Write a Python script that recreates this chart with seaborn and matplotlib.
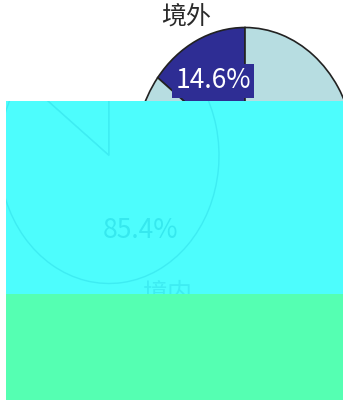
import matplotlib
matplotlib.use("Agg")
import matplotlib.pyplot as plt
import seaborn as sns
from matplotlib.patches import Rectangle

# Share of the total by origin
regions = ["境外", "境内"]
shares = [14.6, 85.4]

slice_colors = ["#2e2d94", "#b7dde1"]
edge_color = "#222222"

cyan = "#4dfdfd"
cyan_line = "#3eecf2"
green = "#55ffb2"

sns.set_theme(style="white")
plt.rcParams["font.family"] = ["Noto Sans CJK SC", "DejaVu Sans"]

W, H = 343, 400
fig = plt.figure(figsize=(W / 100, H / 100), dpi=100)
fig.patch.set_facecolor("white")


def pie_axes(cx, cy, rx, ry):
    """Axes spanning +-1.25 data units around a pie centred at pixel (cx, cy)."""
    left = (cx - 1.25 * rx) / W
    bottom = (H - cy - 1.25 * ry) / H
    return fig.add_axes([left, bottom, 2.5 * rx / W, 2.5 * ry / H])


def draw_pie(ax, colors, edge, text_color, pct_colors, box_color=None, lw=1.2):
    wedges, labels, pcts = ax.pie(
        shares,
        labels=regions,
        colors=colors,
        startangle=90,
        counterclock=True,
        autopct=lambda p: f"{p:.1f}%",
        pctdistance=0.65,
        labeldistance=1.2,
        wedgeprops=dict(edgecolor=edge, linewidth=lw),
        textprops=dict(fontsize=18, color=text_color),
    )
    ax.set_aspect("auto")
    ax.set_xlim(-1.25, 1.25)
    ax.set_ylim(-1.25, 1.25)
    for t in labels:
        t.set_ha("center")
    for t, c in zip(pcts, pct_colors):
        t.set_color(c)
        t.set_fontsize(19)
    if box_color is not None:
        pcts[0].set_bbox(dict(boxstyle="square,pad=0.12", facecolor=box_color,
                              edgecolor="none"))
    return wedges, labels, pcts


RX, RY, CY = 110, 128, 155.5

# Main pie
ax = pie_axes(245, CY, RX, RY)
ax.set_zorder(0)
draw_pie(ax, slice_colors, edge_color, "#2a2a2a", ["white", "#2a2a2a"],
         box_color=slice_colors[0])

# Coloured blocks laid over the lower part of the figure
band_top = Rectangle((6 / W, (H - 294) / H), (W - 6) / W, (294 - 101) / H,
                     transform=fig.transFigure, facecolor=cyan, edgecolor="none",
                     zorder=5)
band_bottom = Rectangle((6 / W, 0), (W - 6) / W, (H - 294) / H,
                        transform=fig.transFigure, facecolor=green,
                        edgecolor="none", zorder=5)
fig.patches.extend([band_top, band_bottom])

# Faint outline echo inside the cyan block
ghost = pie_axes(109, CY, RX, RY)
ghost.set_zorder(6)
ghost.patch.set_visible(False)
w2, l2, p2 = draw_pie(ghost, [cyan, cyan], cyan_line, cyan_line,
                      [cyan_line, "#36e8ee"], lw=1.0)
clip = Rectangle((6 / W, (H - 294) / H), (W - 6) / W, (294 - 101) / H,
                 transform=fig.transFigure)
for art in list(w2) + list(l2) + list(p2):
    art.set_clip_path(clip)
    art.set_clip_on(True)

fig.savefig("out.png", dpi=100)
